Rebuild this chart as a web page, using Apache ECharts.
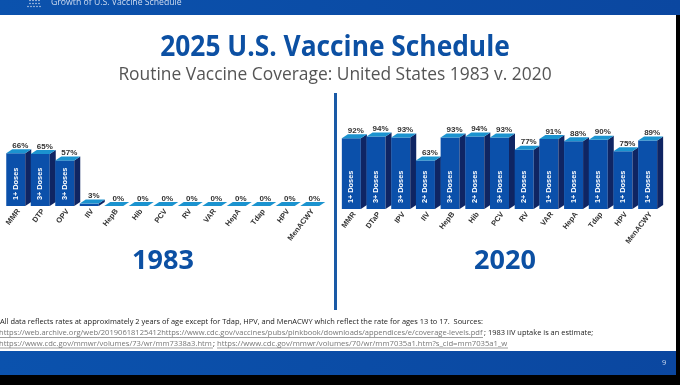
<!DOCTYPE html>
<html><head><meta charset="utf-8">
<style>html,body{margin:0;padding:0;background:#000}#c{width:680px;height:385px}</style>
<script src="https://cdn.jsdelivr.net/npm/echarts@6/dist/echarts.min.js"></script>
</head><body><div id="c"></div>
<script>
const vaccines1983 = ['MMR','DTP','OPV','IIV','HepB','Hib','PCV','RV','VAR','HepA','Tdap','HPV','MenACWY'];
const values1983 = [66,65,57,3,0,0,0,0,0,0,0,0,0];
const doses1983 = ['1+ Doses','3+ Doses','3+ Doses','','','','','','','','','',''];
const vaccines2020 = ['MMR','DTaP','IPV','IIV','HepB','Hib','PCV','RV','VAR','HepA','Tdap','HPV','MenACWY'];
const values2020 = [92,94,93,63,93,94,93,77,91,88,90,75,89];
const doses2020 = ['1+ Doses','3+ Doses','3+ Doses','2+ Doses','3+ Doses','2+ Doses','3+ Doses','2+ Doses','1+ Doses','1+ Doses','1+ Doses','1+ Doses','1+ Doses'];

const FONT = '"Open Sans", sans-serif';
const LFONT = '"Liberation Sans", Arial, sans-serif';
const LABEL_SHIFT = 3;
function renderBar(params, api) {
  const cat = api.value(0), val = api.value(1), dose = api.value(2);
  const top = api.coord([cat, val]);
  const base = api.coord([cat, 0]);
  const cx = top[0] - LABEL_SHIFT;
  const w = 19, dx = 6, dy = 4;
  const x0 = cx - w/2, x1 = x0 + w, yt = top[1], yb = base[1];
  const kids = [];
  if (yb - yt > 0) {
    kids.push({type:'rect',shape:{x:x0,y:yt,width:w,height:yb-yt},style:{fill:'#0b50aa'}});
    kids.push({type:'polygon',shape:{points:[[x1,yt],[x1+dx,yt-dy],[x1+dx,yb-dy],[x1,yb]]},style:{fill:'#0f2563'}});
  }
  kids.push({type:'polygon',shape:{points:[[x0,yt],[x0+dx,yt-dy],[x1+dx,yt-dy],[x1,yt]]},style:{fill:'#1b93cf'}});
  kids.push({type:'text',style:{x:cx+4.5,y:yt-7.5,text:val+'%',fill:'#333',font:'bold 8px '+LFONT,align:'center',verticalAlign:'middle'}});
  if (dose) {
    kids.push({type:'text',x:cx,y:yb-6,rotation:Math.PI/2,
      style:{x:0,y:0,text:dose,fill:'#fff',font:'bold 7.3px '+LFONT,align:'left',verticalAlign:'middle'}});
  }
  return {type:'group',children:kids};
}
function axes(names, idx) {
  return {
    x:{type:'category',gridIndex:idx,data:names,axisLine:{show:false},axisTick:{show:false},splitLine:{show:false},
       axisLabel:{interval:0,rotate:52,margin:4,fontSize:7.5,fontWeight:'bold',fontFamily:LFONT,color:'#333'}},
    y:{type:'value',gridIndex:idx,min:0,max:100,show:false}
  };
}
function rows(names, vals, doses){ return names.map((n,i)=>[i,vals[i],doses[i]]); }
const a = axes(vaccines1983,0), b = axes(vaccines2020,1);

function txt(x,y,text,size,color,weight,align,sx){
  return {type:'text',x:x,y:y,scaleX:sx||1,silent:true,style:{text:text,fill:color,font:(weight||'normal')+' '+size+'px '+FONT,align:align||'left',verticalAlign:'middle'}};
}
function ul(x1,x2,y){ return {type:'line',silent:true,shape:{x1:x1,y1:y,x2:x2,y2:y},style:{stroke:'#777',lineWidth:0.7}}; }
const blue = new echarts.graphic.LinearGradient(0,0,1,0,[{offset:0,color:'#0b52ad'},{offset:1,color:'#0b47a0'}]);
const dots = [];
[[30,0],[33,0],[36,0],[39,0],[30,3],[33,3],[36,3],[39,3],[28,6],[31,6],[34,6],[37,6],[40,6]].forEach(p=>{
  dots.push({type:'circle',silent:true,shape:{cx:p[0],cy:p[1]+0.5,r:0.7},style:{fill:'#dfe8f5'}});
});
const shapes = [
  {type:'rect',silent:true,shape:{x:0,y:0,width:676,height:375},style:{fill:'#fff'}},
  {type:'rect',silent:true,shape:{x:0,y:0,width:680,height:15},style:{fill:blue}},
  {type:'rect',silent:true,shape:{x:0,y:351,width:676,height:24},style:{fill:blue}},
  {type:'rect',silent:true,shape:{x:334,y:93,width:3,height:217},style:{fill:'#1a5aa6'}},
  ...dots,
  txt(51,2.5,'Growth of U.S. Vaccine Schedule',8.7,'#cfdcf0'),
  txt(335,48,'2025 U.S. Vaccine Schedule',28,'#0c50a3','bold','center',0.94),
  txt(335,75,'Routine Vaccine Coverage: United States 1983 v. 2020',17.4,'#555','normal','center'),
  txt(163,261,'1983',27,'#0c50a3','bold','center'),
  txt(505,261,'2020',27,'#0c50a3','bold','center'),
  txt(0,322,'All data reflects rates at approximately 2 years of age except for Tdap, HPV, and MenACWY which reflect the rate for ages 13 to 17.  Sources:',7.45,'#222'),
  txt(-1,333,'https://web.archive.org/web/20190618125412https://www.cdc.gov/vaccines/pubs/pinkbook/downloads/appendices/e/coverage-levels.pdf',7.55,'#777'),
  txt(484,333,'; 1983 IIV uptake is an estimate;',7.45,'#222'),
  txt(-1,343.5,'https://www.cdc.gov/mmwr/volumes/73/wr/mm7338a3.htm',7.6,'#777'),
  txt(213,343.5,'; ',7.5,'#222'),
  txt(217,343.5,'https://www.cdc.gov/mmwr/volumes/70/wr/mm7035a1.htm?s_cid=mm7035a1_w',7.7,'#777'),
  ul(0,483,337.5), ul(0,213,348), ul(217,508,348),
  txt(662,363,'9',7.5,'#cfdcf0')
];
const chart = echarts.init(document.getElementById('c'),null,{renderer:'canvas'});
chart.setOption({
  animation:false,
  backgroundColor:'#000',
  grid:[
    {left:3.5+LABEL_SHIFT,width:318.5,top:126,height:80},
    {left:339+LABEL_SHIFT,width:321,top:132,height:77}
  ],
  xAxis:[a.x,b.x],
  yAxis:[a.y,b.y],
  series:[
    {type:'custom',xAxisIndex:0,yAxisIndex:0,renderItem:renderBar,encode:{x:0,y:1},data:rows(vaccines1983,values1983,doses1983),z:3,clip:false},
    {type:'custom',xAxisIndex:1,yAxisIndex:1,renderItem:renderBar,encode:{x:0,y:1},data:rows(vaccines2020,values2020,doses2020),z:3,clip:false}
  ],
  graphic:{elements:shapes.map(s=>Object.assign({z:-1,zlevel:0},s))}
});
</script></body></html>
